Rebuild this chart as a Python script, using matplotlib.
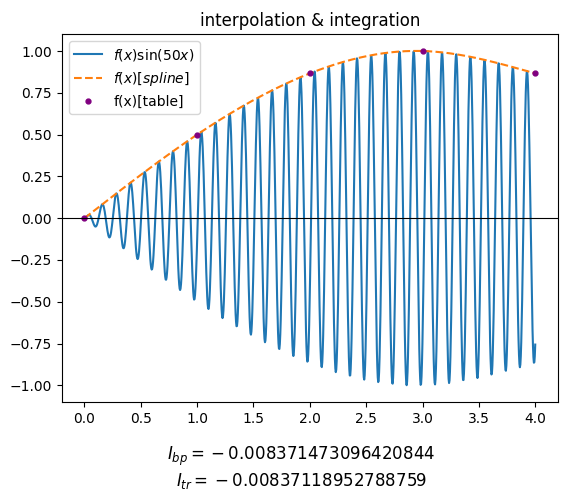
import numpy as np
import matplotlib
matplotlib.use("Agg")
import matplotlib.pyplot as plt

# table data
x_table = [0.0, 1.0, 2.0, 3.0, 4.0]
f_table = [0.0, 0.5, 0.8660254, 1.0, 0.8660254]
omega = 50.0
I_bp = "-0.008371473096420844"
I_tr = "-0.00837118952788759"


def natural_spline(xk, yk, xs):
    xk = np.asarray(xk, float)
    yk = np.asarray(yk, float)
    n = len(xk)
    h = np.diff(xk)
    A = np.zeros((n, n))
    b = np.zeros(n)
    A[0, 0] = 1.0
    A[-1, -1] = 1.0
    for i in range(1, n - 1):
        A[i, i - 1] = h[i - 1]
        A[i, i] = 2 * (h[i - 1] + h[i])
        A[i, i + 1] = h[i]
        b[i] = 6 * ((yk[i + 1] - yk[i]) / h[i] - (yk[i] - yk[i - 1]) / h[i - 1])
    M = np.linalg.solve(A, b)
    idx = np.clip(np.searchsorted(xk, xs) - 1, 0, n - 2)
    x0, x1 = xk[idx], xk[idx + 1]
    hh = x1 - x0
    t0 = x1 - xs
    t1 = xs - x0
    return (M[idx] * t0**3 / (6 * hh) + M[idx + 1] * t1**3 / (6 * hh)
            + (yk[idx] / hh - M[idx] * hh / 6) * t0
            + (yk[idx + 1] / hh - M[idx + 1] * hh / 6) * t1)


xs = np.linspace(x_table[0], x_table[-1], 1000)
fs = natural_spline(x_table, f_table, xs)

fig = plt.figure(figsize=(5.68, 5.03), dpi=100)
ax = fig.add_axes([0.109, 0.201, 0.873, 0.731])
ax.plot(xs, fs * np.sin(omega * xs), color="#1f77b4", label=r"$f(x)\sin(50x)$")
ax.plot(xs, fs, "--", color="#ff7f0e", label=r"$f(x)[spline]$")
ax.plot(x_table, f_table, "o", color="purple", markersize=3.5, label="f(x)[table]")
ax.axhline(0, color="black", lw=0.8)
ax.set_title("interpolation & integration")
ax.legend(loc="upper left")
fig.text(0.531, 0.092, r"$I_{bp} = \mathrm{}" + I_bp + "$", ha="center", va="center", fontsize=12)
fig.text(0.531, 0.044, r"$I_{tr} = \mathrm{}" + I_tr + "$", ha="center", va="center", fontsize=12)
fig.savefig("out.png", dpi=100)
